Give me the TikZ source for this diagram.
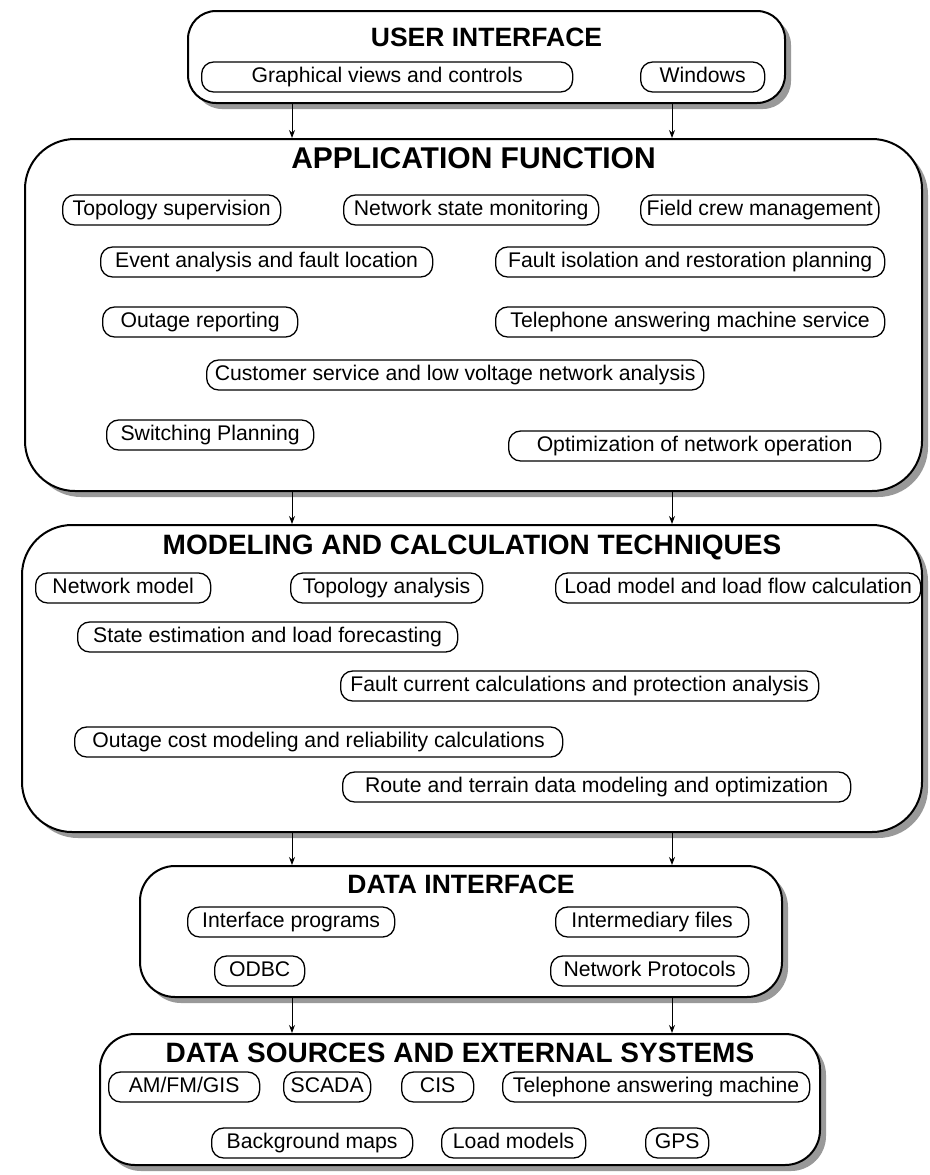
\documentclass[tikz,border=0pt]{standalone}
\usepackage{fontspec}
\setmainfont{Liberation Sans}
\usepackage{tikz}
\usetikzlibrary{arrows.meta,positioning,shadows}

\begin{document}
\begin{tikzpicture}[x=1pt, y=-1pt,
    frame/.style={draw, line width=2pt, fill=white, inner sep=0pt,
        drop shadow={shadow xshift=6pt, shadow yshift=-6pt, fill=black!40, opacity=1}},
    item/.style={draw, line width=1.3pt, rounded corners=12pt, anchor=west,
        minimum height=30pt, inner xsep=6pt, text height=15pt, text depth=4.5pt,
        font=\fontsize{21.2}{24}\selectfont},
    ttl/.style={font=\fontsize{26.5}{30}\selectfont\bfseries},
    flow/.style={-{Stealth[length=8pt,width=6pt]}, line width=1pt}]
    \useasboundingbox (0,0) rectangle (929,1175);

    % the five layers
    \node[frame, rounded corners=28pt, minimum width=597pt, minimum height=92pt] (ui) at (486.5,57) {};
    \node[frame, rounded corners=50pt, minimum width=897pt, minimum height=352pt] (app) at (473.5,315) {};
    \node[frame, rounded corners=50pt, minimum width=900pt, minimum height=307pt] (mod) at (472,678.5) {};
    \node[frame, rounded corners=35pt, minimum width=642pt, minimum height=131pt] (di) at (461,931.5) {};
    \node[frame, rounded corners=35pt, minimum width=720pt, minimum height=131pt] (ds) at (460,1099.5) {};

    \node[ttl] (uiT) at (486.5,37) {USER INTERFACE};
    \node[ttl, font=\fontsize{30}{34}\selectfont\bfseries] (appT) at (473.5,158) {APPLICATION FUNCTION};
    \node[ttl, font=\fontsize{28}{32}\selectfont\bfseries] (modT) at (472,547) {MODELING AND CALCULATION TECHNIQUES};
    \node[ttl] (diT) at (461,884) {DATA INTERFACE};
    \node[ttl, font=\fontsize{28}{32}\selectfont\bfseries] (dsT) at (460,1053) {DATA SOURCES AND EXTERNAL SYSTEMS};

    % user interface
    \node[item, minimum width=371pt] (views) at (201,77) {Graphical views and controls};
    \node[item, minimum width=124pt] (win) at (640,77) {Windows};

    % application function
    \node[item, minimum width=218pt] (topo) at (62,210) {Topology supervision};
    \node[item, minimum width=255pt] (netstate) at (343,210) {Network state monitoring};
    \node[item, minimum width=237pt] (crew) at (640,210) {Field crew management};
    \node[item, minimum width=332pt] (event) at (100,262) {Event analysis and fault location};
    \node[item, minimum width=389pt] (isol) at (495,262) {Fault isolation and restoration planning};
    \node[item, minimum width=195pt] (outrep) at (102,322) {Outage reporting};
    \node[item, minimum width=389pt] (tam) at (495,322) {Telephone answering machine service};
    \node[item, minimum width=497pt] (cust) at (206,375) {Customer service and low voltage network analysis};
    \node[item, minimum width=207pt] (switch) at (106,435) {Switching Planning};
    \node[item, minimum width=372pt] (optim) at (508,446) {Optimization of network operation};

    % modeling and calculation
    \node[item, minimum width=175pt] (netmod) at (35,588) {Network model};
    \node[item, minimum width=192pt] (topoan) at (290,588) {Topology analysis};
    \node[item, minimum width=365pt] (loadflow) at (555,588) {Load model and load flow calculation};
    \node[item, minimum width=380pt] (stateest) at (77,637) {State estimation and load forecasting};
    \node[item, minimum width=478pt] (faultcur) at (340,686) {Fault current calculations and protection analysis};
    \node[item, minimum width=488pt] (outcost) at (74,742) {Outage cost modeling and reliability calculations};
    \node[item, minimum width=508pt] (route) at (342,787) {Route and terrain data modeling and optimization};

    % data interface
    \node[item, minimum width=207pt] (intprog) at (187,922) {Interface programs};
    \node[item, minimum width=193pt] (interm) at (555,922) {Intermediary files};
    \node[item, minimum width=90pt] (odbc) at (214,971) {ODBC};
    \node[item, minimum width=198pt] (netprot) at (550,971) {Network Protocols};

    % data sources
    \node[item, minimum width=151pt] (gis) at (108,1087) {AM/FM/GIS};
    \node[item, minimum width=87pt] (scada) at (283,1087) {SCADA};
    \node[item, minimum width=72pt] (cis) at (401,1087) {CIS};
    \node[item, minimum width=307pt] (phone) at (502,1087) {Telephone answering machine};
    \node[item, minimum width=201pt] (maps) at (211,1143) {Background maps};
    \node[item, minimum width=144pt] (loadmods) at (441,1143) {Load models};
    \node[item, minimum width=63pt] (gps) at (645,1143) {GPS};

    % links between layers
    \coordinate (colL) at (292,0);
    \coordinate (colR) at (672,0);
    \draw[flow] (ui.south -| colL) -- (app.north -| colL);
    \draw[flow] (ui.south -| colR) -- (app.north -| colR);
    \draw[flow] (app.south -| colL) -- (mod.north -| colL);
    \draw[flow] (app.south -| colR) -- (mod.north -| colR);
    \draw[flow] (mod.south -| colL) -- (di.north -| colL);
    \draw[flow] (mod.south -| colR) -- (di.north -| colR);
    \draw[flow] (di.south -| colL) -- (ds.north -| colL);
    \draw[flow] (di.south -| colR) -- (ds.north -| colR);
\end{tikzpicture}
\end{document}
